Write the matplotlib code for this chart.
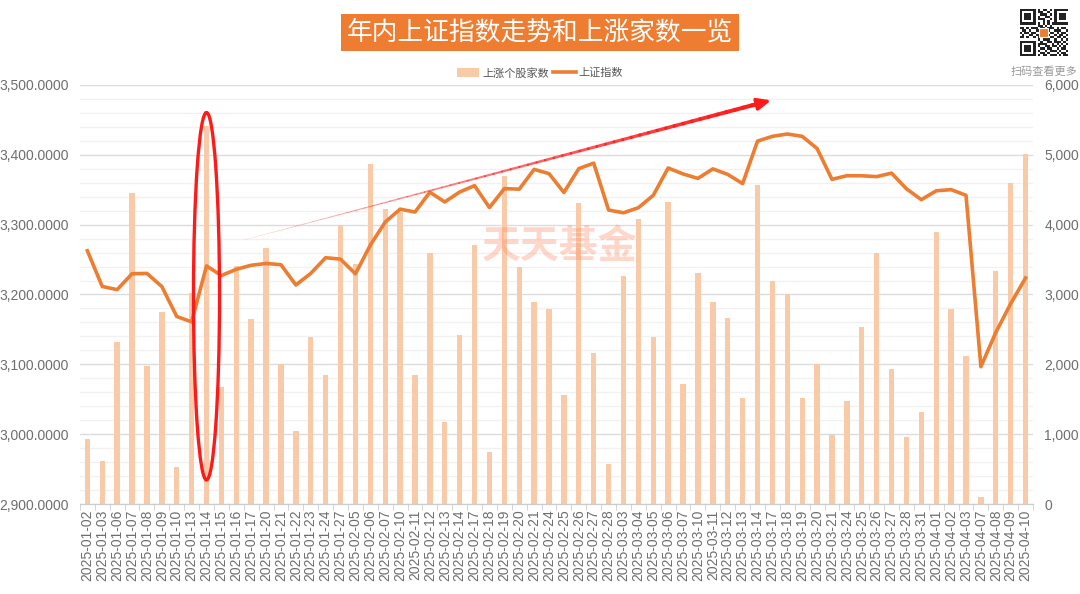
import matplotlib
matplotlib.use("Agg")
import matplotlib.pyplot as plt
import numpy as np
from matplotlib.collections import LineCollection
from matplotlib.patches import Ellipse, Rectangle
from matplotlib.ticker import FuncFormatter, MultipleLocator

plt.rcParams["font.family"] = ["Noto Sans CJK SC", "DejaVu Sans"]

DATES = [
    "2025-01-02", "2025-01-03", "2025-01-06", "2025-01-07", "2025-01-08", "2025-01-09",
    "2025-01-10", "2025-01-13", "2025-01-14", "2025-01-15", "2025-01-16", "2025-01-17",
    "2025-01-20", "2025-01-21", "2025-01-22", "2025-01-23", "2025-01-24", "2025-01-27",
    "2025-02-05", "2025-02-06", "2025-02-07", "2025-02-10", "2025-02-11", "2025-02-12",
    "2025-02-13", "2025-02-14", "2025-02-17", "2025-02-18", "2025-02-19", "2025-02-20",
    "2025-02-21", "2025-02-24", "2025-02-25", "2025-02-26", "2025-02-27", "2025-02-28",
    "2025-03-03", "2025-03-04", "2025-03-05", "2025-03-06", "2025-03-07", "2025-03-10",
    "2025-03-11", "2025-03-12", "2025-03-13", "2025-03-14", "2025-03-17", "2025-03-18",
    "2025-03-19", "2025-03-20", "2025-03-21", "2025-03-24", "2025-03-25", "2025-03-26",
    "2025-03-27", "2025-03-28", "2025-03-31", "2025-04-01", "2025-04-02", "2025-04-03",
    "2025-04-07", "2025-04-08", "2025-04-09", "2025-04-10",
]

RISING_COUNT = [
    930, 615, 2318, 4449, 1974, 2747, 529, 3019, 5412, 1678, 3409, 2647,
    3662, 2003, 1049, 2389, 1845, 3991, 3438, 4864, 4220, 4186, 1845, 3591,
    1177, 2422, 3705, 738, 4697, 3400, 2898, 2790, 1564, 4306, 2160, 577,
    3266, 4086, 2398, 4329, 1721, 3309, 2898, 2661, 1516, 4568, 3199, 3009,
    1516, 2007, 991, 1478, 2532, 3600, 1931, 958, 1311, 3900, 2790, 2112,
    100, 3338, 4592, 5011,
]

SSE_INDEX = [
    3262.56, 3211.43, 3206.92, 3229.64, 3230.17, 3211.39, 3168.52, 3160.76,
    3240.94, 3227.12, 3236.03, 3241.82, 3244.38, 3242.62, 3213.62, 3230.16,
    3252.63, 3250.60, 3229.49, 3270.66, 3303.67, 3322.17, 3318.06, 3346.39,
    3332.48, 3346.72, 3355.83, 3324.49, 3351.54, 3350.78, 3379.11, 3373.03,
    3346.04, 3380.21, 3388.06, 3320.90, 3316.93, 3324.21, 3341.96, 3381.10,
    3372.55, 3366.16, 3379.83, 3371.92, 3358.73, 3419.56, 3426.43, 3429.76,
    3426.43, 3408.95, 3364.83, 3370.03, 3369.98, 3368.70, 3373.75, 3351.31,
    3335.75, 3348.44, 3350.13, 3342.01, 3096.58, 3145.55, 3186.81, 3223.64,
]

BAR_COLOR = "#F8CAA8"
LINE_COLOR = "#ED7D31"
TEXT_GRAY = "#6e6e6e"

fig = plt.figure(figsize=(10.8, 5.94), dpi=100)
ax = fig.add_axes([0.074, 0.1515, 0.8825, 0.7055])
ax2 = ax.twinx()

x = np.arange(len(DATES))

# left axis holds the line, right axis the bars (drawn behind)
ax.set_zorder(2)
ax.patch.set_visible(False)
ax2.set_zorder(1)

ax2.bar(x, RISING_COUNT, width=0.36, color=BAR_COLOR, zorder=2)
ax2.set_ylim(0, 6000)
ax2.yaxis.set_major_locator(MultipleLocator(1000))
ax2.yaxis.set_major_formatter(FuncFormatter(lambda v, p: f"{int(v):,}"))

ax.plot(x, SSE_INDEX, color=LINE_COLOR, linewidth=2.6, zorder=4, solid_joinstyle="round")
ax.set_ylim(2900, 3500)
ax.set_xlim(-0.5, len(DATES) - 0.5)
ax.yaxis.set_major_locator(MultipleLocator(100))
ax.yaxis.set_major_formatter(FuncFormatter(lambda v, p: f"{v:,.4f}"))

# grid drawn on the back axis so the bars sit above it
for v in np.arange(2900, 3501, 20):
    major = abs((v - 2900) % 100) < 1e-6
    ax2.axhline((v - 2900) * 10, color="#dcdcdc" if major else "#f1f1f1",
                linewidth=1.0, zorder=0)

ax.set_xticks(x)
ax.set_xticklabels(DATES, rotation=90, fontsize=10, color=TEXT_GRAY,
                   family=["Liberation Sans", "DejaVu Sans"])
ax.set_xticks(np.arange(-0.5, len(DATES), 1), minor=True)
ax.tick_params(axis="x", which="major", length=0, pad=4)
ax.tick_params(axis="x", which="minor", length=4, color="#cccccc")
ax.tick_params(axis="y", which="both", length=0, labelsize=10, labelcolor=TEXT_GRAY, pad=8)
ax2.tick_params(axis="y", length=0, labelsize=10, labelcolor=TEXT_GRAY, pad=8)
for lab in ax.get_yticklabels() + ax2.get_yticklabels():
    lab.set_family(["Liberation Sans", "DejaVu Sans"])

for a in (ax, ax2):
    for side, spine in a.spines.items():
        spine.set_visible(side == "bottom")
    a.spines["bottom"].set_color("#cccccc")

# annotations: ellipse around 2025-01-14 and rising arrow
ax.add_patch(Ellipse((8, 3197.5), width=1.75, height=526, fill=False,
                     edgecolor="#FF1A1A", linewidth=2.4, zorder=6))

x0, y0 = 10.5, 3278
x1, y1 = 45.2, 3474
n = 60
xs = np.linspace(x0, x1, n + 1)
ys = np.linspace(y0, y1, n + 1)
segs = [[(xs[i], ys[i]), (xs[i + 1], ys[i + 1])] for i in range(n)]
widths = np.linspace(0.2, 3.0, n)
alphas = np.linspace(0.25, 1.0, n)
cols = [(1.0, 0.1, 0.1, a) for a in alphas]
ax.add_collection(LineCollection(segs, linewidths=widths, colors=cols, zorder=6,
                                 capstyle="round"))
ax.annotate("", xy=(x1 + 0.9, y1 + 5), xytext=(x1 - 0.6, y1 - 3.5),
            arrowprops=dict(arrowstyle="-|>,head_length=0.8,head_width=0.35",
                            color="#FF1A1A", linewidth=2.5), zorder=7)

# watermark
fig.text(0.518, 0.585, "天天基金", fontsize=28, fontweight="bold", color="#FF8C69",
         alpha=0.35, ha="center", va="center", family=["Noto Sans CJK SC"])

# title banner
fig.text(0.5, 0.945, "年内上证指数走势和上涨家数一览", fontsize=18.5, color="white",
         ha="center", va="center",
         bbox=dict(boxstyle="square,pad=0.22", facecolor="#EE7D31", edgecolor="none"))

# legend
bar_h = Rectangle((0, 0), 1, 1, facecolor=BAR_COLOR, edgecolor="none")
line_h = plt.Line2D([0], [0], color=LINE_COLOR, linewidth=2.6)
fig.legend([bar_h, line_h], ["上涨个股家数", "上证指数"], loc="center",
           bbox_to_anchor=(0.5, 0.877), ncol=2, frameon=False, fontsize=8,
           labelcolor="#555555", handlelength=2.0, handleheight=0.9,
           handletextpad=0.3, columnspacing=0.4)

# QR code style badge in corner
qr = fig.add_axes([0.944, 0.905, 0.045, 0.08])
qr.set_xlim(0, 21)
qr.set_ylim(0, 21)
qr.axis("off")
pattern = [
    "1111111010110101111111", "1000001011001001000001", "1011101001110101011101",
    "1011101010011001011101", "1011101011100101011101", "1000001000101001000001",
    "1111111010101011111111", "0000000011010100000000", "1101011101101110101101",
    "0110100110011001110010", "1011011001100110101101", "0100110111011001011010",
    "1101001010100110110101", "0000000010111001001010", "1111111001001101110101",
    "1000001011110010101010", "1011101010011011010101", "1011101001101100101101",
    "1011101010010111010010", "1000001001101000101101", "1111111010110111010110",
]
for r, row in enumerate(pattern):
    for c, ch in enumerate(row[:21]):
        if ch == "1":
            qr.add_patch(Rectangle((c, 20 - r), 1, 1, facecolor="#222222", edgecolor="none"))
qr.add_patch(Rectangle((8.5, 8.5), 4, 4, facecolor="#EE7D31", edgecolor="white", linewidth=0.8))
fig.text(0.967, 0.879, "扫码查看更多", fontsize=8, color="#999999", ha="center", va="center")

fig.savefig("out.png", dpi=100)
